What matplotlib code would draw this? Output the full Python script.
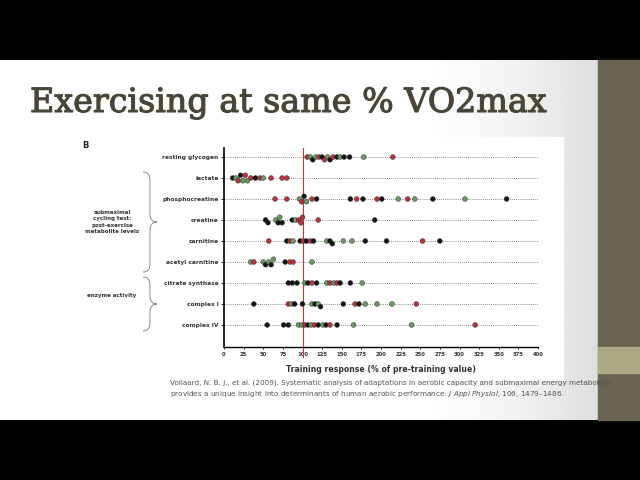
import matplotlib
matplotlib.use('Agg')
import numpy as np
import matplotlib.pyplot as plt
import matplotlib.patheffects as pe
from matplotlib.path import Path
from matplotlib.patches import PathPatch, Rectangle

# rows of the dot plot, top to bottom
metabolites = ['resting glycogen', 'lactate', 'phosphocreatine', 'creatine', 'carnitine',
               'acetyl carnitine', 'citrate synthase', 'complex I', 'complex IV']

# training response, % of pre-training value
glycogen = [106, 110, 113, 117, 121, 125, 128, 132, 135, 139, 144, 148, 153, 160, 178, 215]
glycogen_c = 'rgkgrkrgkrkgkkgr'
lactate = [11, 15, 18, 21, 24, 27, 30, 34, 40, 46, 50, 60, 74, 80]
lactate_c = 'kgrkgrgrkrgrrr'
pcr = [65, 80, 96, 99, 102, 105, 112, 118, 161, 169, 177, 195, 201, 222, 234, 243, 266, 307, 360]
pcr_c = 'rrgrkgrkkrkrkgrgkgk'
creatine = [53, 56, 66, 69, 71, 74, 87, 91, 95, 98, 100, 120, 192]
creatine_c = 'kkgkgkkgrrrrk'
carnitine = [57, 80, 84, 88, 97, 101, 105, 110, 114, 131, 135, 138, 152, 163, 180, 207, 253, 275]
carnitine_c = 'rkrgkrkrkgkkggkkrk'
acetyl = [34, 38, 50, 53, 57, 60, 63, 78, 84, 88, 112]
acetyl_c = 'grgkgkgkrrg'
citrate = [82, 87, 93, 103, 107, 112, 118, 131, 135, 140, 144, 148, 161, 176]
citrate_c = 'kkkgkrkgrgrkkg'
complex1 = [38, 82, 86, 90, 100, 112, 116, 120, 123, 152, 167, 172, 180, 195, 214, 245]
complex1_c = 'krgkkgkgkkrkgggr'
complex4 = [55, 76, 82, 95, 99, 103, 107, 111, 115, 120, 126, 130, 135, 144, 165, 239, 320]
complex4_c = 'kkkggrkgrkgkrkggr'

rows = [(glycogen, glycogen_c), (lactate, lactate_c), (pcr, pcr_c), (creatine, creatine_c),
        (carnitine, carnitine_c), (acetyl, acetyl_c), (citrate, citrate_c),
        (complex1, complex1_c), (complex4, complex4_c)]

xticks = list(range(0, 401, 25))
palette = {'k': '#151515', 'g': '#6a9a62', 'r': '#b8323e'}

title = 'Exercising at same % VO2max'
cite1 = ('Vollaard, N. B. J., et al. (2009). Systematic analysis of adaptations in aerobic capacity '
         'and submaximal energy metabolism')
cite2 = ('provides a unique insight into determinants of human aerobic performance. '
         r'$\it{J\ Appl\ Physiol}$, 106, 1479–1486.')

W, H = 640, 480
fig = plt.figure(figsize=(6.4, 4.8), dpi=100)
fig.patch.set_facecolor('black')

# slide background in pixel coordinates
bg = fig.add_axes([0, 0, 1, 1])
bg.set_xlim(0, W)
bg.set_ylim(H, 0)
bg.axis('off')
grad = np.linspace(0, 1, 256)
grad = np.clip((grad - 0.7) / 0.3, 0, 1) ** 1.5
img = 1 - 0.13 * grad
bg.imshow(np.tile(img, (2, 1)), cmap='gray', vmin=0, vmax=1, extent=[0, 598, 420, 60],
          aspect='auto', zorder=0)
bg.add_patch(Rectangle((598, 60), 42, 360, color='#6b6351', zorder=1))
bg.add_patch(Rectangle((598, 347), 42, 26, color='#aea985', zorder=2))
bg.add_patch(Rectangle((75, 137), 488, 243, color='white', zorder=1))

bg.text(30, 103, title, family='DejaVu Serif', fontsize=24, color='#4b4438',
        va='center', ha='left', zorder=3,
        path_effects=[pe.withStroke(linewidth=0.8, foreground='#4b4438')])
bg.text(82, 145, 'B', fontsize=6, weight='bold', color='#222', va='center', zorder=3)
bg.text(170, 383, cite1, fontsize=5.2, color='#555', va='center', zorder=3)
bg.text(170, 394, cite2, fontsize=5.2, color='#555', va='center', zorder=3)

bg.text(112, 222, 'submaximal\ncycling test:\npost-exercise\nmetabolite levels', fontsize=4,
        weight='bold', color='#333', ha='center', va='center', linespacing=1.3, zorder=3)
bg.text(112, 296, 'enzyme activity', fontsize=4, weight='bold', color='#333',
        ha='center', va='center', zorder=3)


def brace(y0, y1, x0=143, x1=157):
    xm = (x0 + x1) / 2
    ym = (y0 + y1) / 2
    verts = [(x0, y0), (xm, y0), (xm, y0 + 8), (xm, ym - 8), (xm, ym), (x1, ym),
             (xm, ym), (xm, ym + 8), (xm, y1 - 8), (xm, y1), (x0, y1)]
    codes = [Path.MOVETO, Path.CURVE3, Path.CURVE3, Path.LINETO, Path.CURVE3, Path.CURVE3,
             Path.CURVE3, Path.CURVE3, Path.LINETO, Path.CURVE3, Path.CURVE3]
    bg.add_patch(PathPatch(Path(verts, codes), fill=False, lw=0.6, ec='#777', zorder=3))


brace(172, 272)
brace(277, 331)

# main dot plot
ax = fig.add_axes([224 / W, 1 - 347 / H, 314 / W, (347 - 148) / H])
ax.set_facecolor('none')
ax.set_xlim(0, 400)
ax.set_ylim(9.05, -0.43)
for i, (vals, cols) in enumerate(rows):
    ax.plot([0, 400], [i, i], ls=(0, (1, 1.5)), color='#666', lw=0.6, zorder=1)
    ys = []
    prev = -100
    k = 0
    for v in vals:
        if v - prev < 4:
            k += 1
            ys.append(i + (0.13 if k % 2 else -0.13))
        else:
            k = 0
            ys.append(i)
        prev = v
    ax.scatter(vals, ys, s=12, c=[palette[c] for c in cols], edgecolors='#222',
               linewidths=0.3, zorder=3)
ax.axvline(100, color='#c8323c', lw=0.8, ymin=-0.05, ymax=1, clip_on=False, zorder=2)

ax.set_yticks(range(len(metabolites)))
ax.set_yticklabels(metabolites, fontsize=4.2, weight='bold', color='#333')
ax.set_xticks(xticks)
ax.set_xticklabels([str(t) for t in xticks], fontsize=3.8, weight='bold', color='#333')
ax.tick_params(axis='y', length=2, width=0.6, pad=2)
ax.tick_params(axis='x', length=1.5, width=0.6, pad=2)
for s in ['top', 'right']:
    ax.spines[s].set_visible(False)
ax.spines['left'].set_linewidth(1.2)
ax.spines['bottom'].set_linewidth(1.0)
ax.set_xlabel('Training response (% of pre-training value)', fontsize=5.6, weight='bold',
              color='#333', labelpad=6)

plt.savefig('out.png', dpi=100, facecolor=fig.get_facecolor())
